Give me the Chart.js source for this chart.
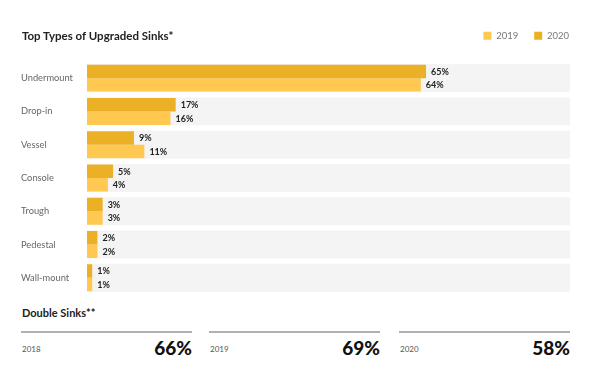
<!DOCTYPE html>
<html>
<head>
<meta charset="utf-8">
<script src="https://cdn.jsdelivr.net/npm/chart.js@4"></script>
<style>
  html, body { margin: 0; padding: 0; background: #fff; }
  body { width: 600px; height: 375px; position: relative; overflow: hidden; font-family: Lato, "Open Sans", sans-serif; }
  #wrap { position: absolute; left: 0; top: 0; width: 600px; height: 300px; }
  #title { position: absolute; left: 22px; top: 29px; font-size: 11.5px; font-weight: 700; color: #222; }
  #dtitle { position: absolute; left: 22px; top: 306px; font-size: 11px; font-weight: 700; color: #222; }
  .cell { position: absolute; top: 331px; width: 171px; height: 40px; border-top: 2px solid #b0b0b0; }
  .cell .yr { position: absolute; left: 1px; top: 11px; font-size: 8px; color: #555; }
  .cell .val { position: absolute; right: 0; top: 3px; font-size: 19px; font-weight: 900; color: #111; }
</style>
</head>
<body>
<div id="wrap"><canvas id="c"></canvas></div>
<div id="title">Top Types of Upgraded Sinks*</div>
<div id="dtitle">Double Sinks**</div>
<div id="double"></div>
<script>
const categories = ['Undermount', 'Drop-in', 'Vessel', 'Console', 'Trough', 'Pedestal', 'Wall-mount'];
const values2020 = [65, 17, 9, 5, 3, 2, 1];
const values2019 = [64, 16, 11, 4, 3, 2, 1];
const doubleYears = ['2018', '2019', '2020'];
const doubleValues = [66, 69, 58];

// bottom "Double Sinks" cells
const dbl = document.getElementById('double');
const cellLefts = [21, 209, 399];
doubleYears.forEach((y, i) => {
  const d = document.createElement('div');
  d.className = 'cell';
  d.style.left = cellLefts[i] + 'px';
  d.innerHTML = '<span class="yr">' + y + '</span><span class="val">' + doubleValues[i] + '%</span>';
  dbl.appendChild(d);
});

const legendFix = {
  id: 'legendFix',
  beforeInit(chart) {
    const lg = chart.legend;
    if (lg) {
      const orig = lg.fit;
      lg.fit = function () { orig.call(this); this.height += 11; };
    }
  },
  beforeDraw(chart) {
    const lg = chart.legend;
    if (lg) {
      const w = lg.right - lg.left;
      lg.right = chart.chartArea.right + 15;
      lg.left = lg.right - w;
    }
  }
};

const trackPlugin = {
  id: 'track',
  beforeDatasetsDraw(chart) {
    const { ctx, chartArea, scales } = chart;
    const ys = scales.y;
    const h = (ys.getPixelForValue(1) - ys.getPixelForValue(0)) * 0.81 + 1;
    ctx.save();
    ctx.fillStyle = '#f4f4f4';
    categories.forEach((c, i) => {
      const yc = ys.getPixelForValue(i);
      ctx.fillRect(chartArea.left, yc - h / 2, chartArea.right - chartArea.left, h);
    });
    ctx.restore();
  }
};

const labelPlugin = {
  id: 'vlabels',
  afterDatasetsDraw(chart) {
    const { ctx } = chart;
    ctx.save();
    ctx.font = '700 9px Lato, sans-serif';
    ctx.fillStyle = '#222';
    ctx.textBaseline = 'middle';
    chart.data.datasets.forEach((ds, di) => {
      chart.getDatasetMeta(di).data.forEach((bar, i) => {
        ctx.fillText(ds.data[i] + '%', bar.x + 5, bar.y + 0.5);
      });
    });
    ctx.restore();
  }
};

new Chart(document.getElementById('c'), {
  type: 'bar',
  data: {
    labels: categories,
    datasets: [
      { label: '2020', data: values2020, backgroundColor: '#ecb027', borderWidth: 0, categoryPercentage: 0.81, barPercentage: 1 },
      { label: '2019', data: values2019, backgroundColor: '#ffc951', borderWidth: 0, categoryPercentage: 0.81, barPercentage: 1 }
    ]
  },
  options: {
    indexAxis: 'y',
    responsive: true,
    maintainAspectRatio: false,
    animation: false,
    layout: { padding: { left: 21, right: 30, top: 15, bottom: 2 } },
    scales: {
      x: { display: false, min: 0, max: 92.6 },
      y: {
        grid: { display: false },
        border: { display: false },
        ticks: { color: '#666', font: { family: 'Lato', size: 9.3 }, crossAlign: 'far', padding: 0 },
        afterFit(scale) { scale.width = 66; }
      }
    },
    plugins: {
      legend: {
        position: 'top',
        align: 'end',
        reverse: true,
        labels: { boxWidth: 8, boxHeight: 8, padding: 16, color: '#777', font: { family: 'Lato', size: 9.5 } }
      },
      tooltip: { enabled: false }
    }
  },
  plugins: [legendFix, trackPlugin, labelPlugin]
});
</script>
</body>
</html>
